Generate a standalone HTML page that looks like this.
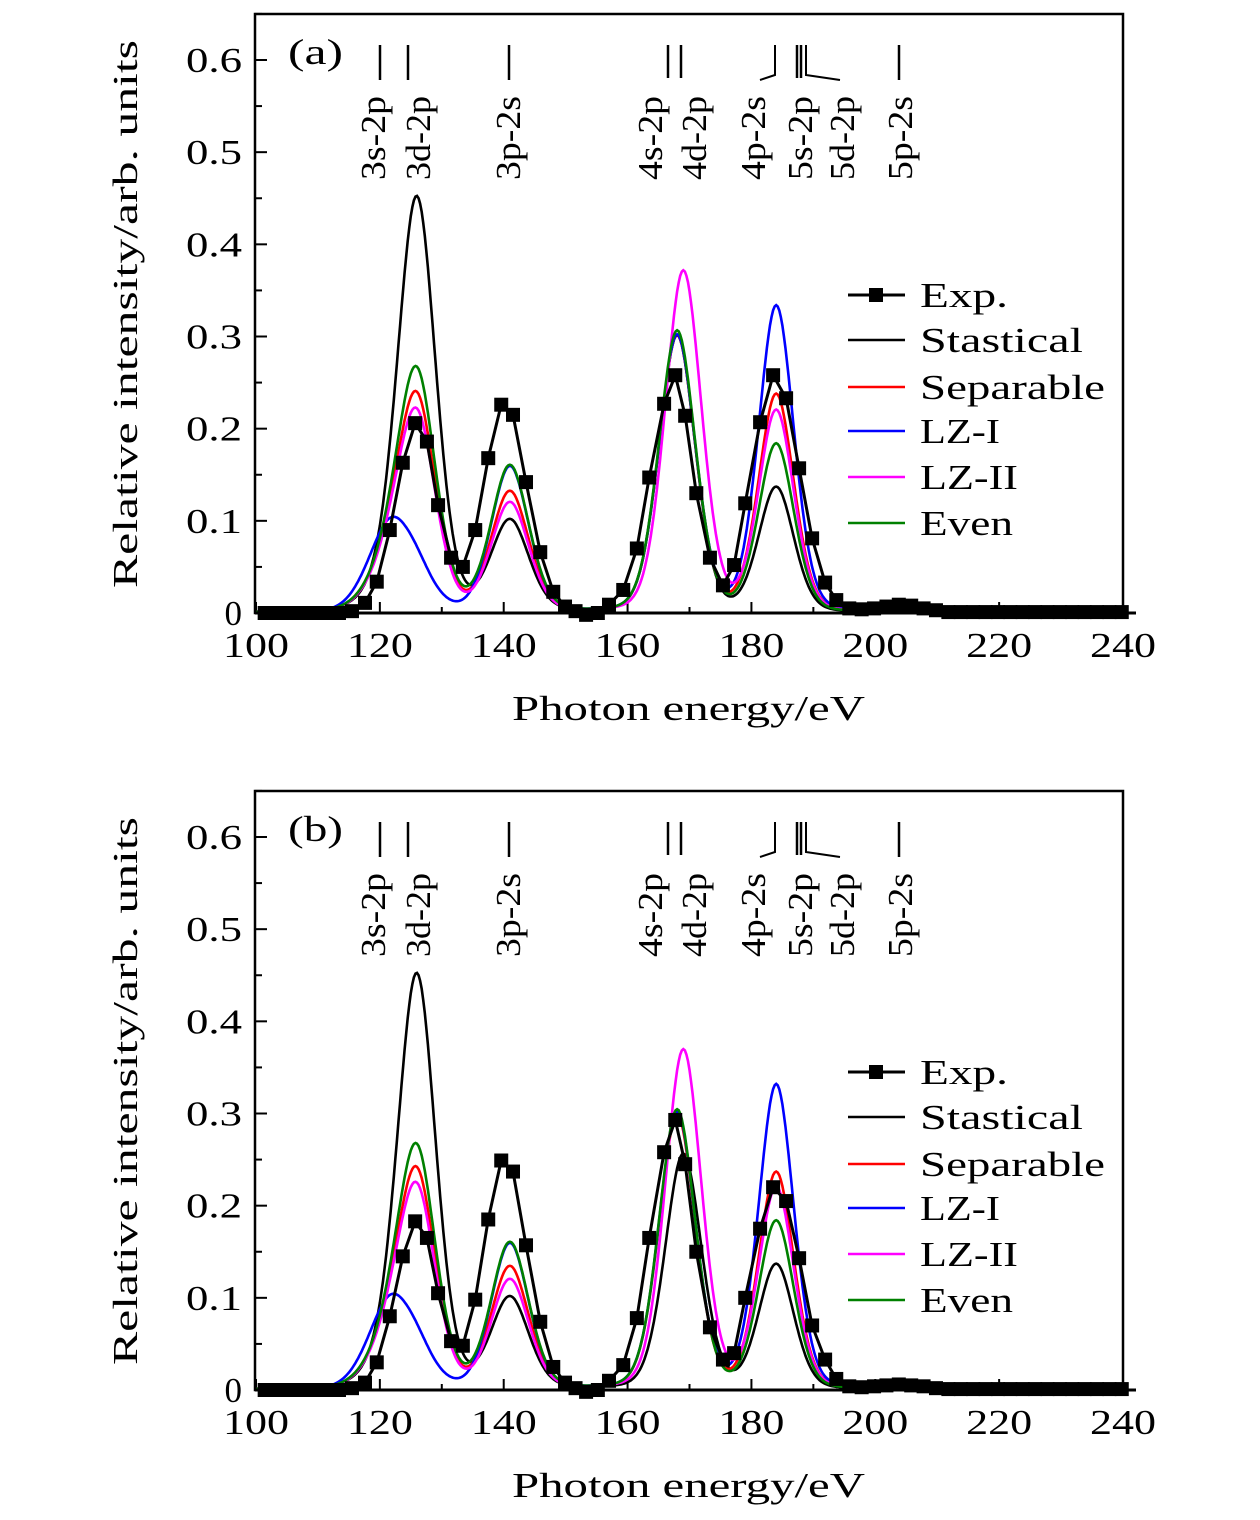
<!DOCTYPE html>
<html><head><meta charset="utf-8">
<style>
html,body{margin:0;padding:0;background:#fff;}
svg{display:block;font-family:"Liberation Serif","DejaVu Serif",serif;}
</style></head>
<body>
<svg id="chart" width="1260" height="1520" viewBox="0 0 1260 1520" xmlns="http://www.w3.org/2000/svg"></svg>
<script>
// ---- data ----
const xTicks = [100,120,140,160,180,200,220,240];
const yTicks = [0,0.1,0.2,0.3,0.4,0.5,0.6];
const yTickLabels = ["0","0.1","0.2","0.3","0.4","0.5","0.6"];
const seriesNames = ["Stastical","Separable","LZ-I","LZ-II","Even"];
const seriesColors = ["#000000","#ff0000","#0000ff","#ff00ff","#008000"];
// peak components (eV): 3s-2p, 3d-2p, 3p-2s, 4s/4d-2p, 4d-2p(shifted), 5s-2p, 5p-2s
const peakCenters = [121.6,126,141,168,169,184,204];
const peakWidths = [3.6,3.1,3.1,3.0,3.0,2.9,3.5];
// amplitudes per series, panel (a)
const ampA_stat = [0.025,0.44,0.098,0.30,0,0.135,0.005];
const ampA_sep  = [0.045,0.218,0.13,0.30,0,0.236,0.005];
const ampA_lz1  = [0.092,0.028,0.158,0.30,0,0.332,0.005];
const ampA_lz2  = [0.045,0.2,0.118,0,0.37,0.218,0.005];
const ampA_even = [0.045,0.245,0.158,0.305,0,0.182,0.005];
// panel (b)
const ampB_stat = [0.025,0.44,0.098,0,0.255,0.135,0.005];
const ampB_sep  = [0.045,0.22,0.132,0.297,0,0.235,0.005];
const ampB_lz1  = [0.092,0.028,0.158,0.30,0,0.33,0.005];
const ampB_lz2  = [0.045,0.203,0.118,0,0.368,0.218,0.005];
const ampB_even = [0.045,0.245,0.158,0.303,0,0.182,0.005];
// experimental points
const expE = [101.4,103.4,105.4,107.4,109.4,111.4,113.4,115.5,117.6,119.5,121.6,123.7,125.7,127.6,129.4,131.5,133.4,135.4,137.5,139.6,141.5,143.6,145.9,148,149.9,151.6,153.3,155.2,157,159.3,161.5,163.5,165.9,167.7,169.3,171.1,173.3,175.4,177.2,179,181.4,183.5,185.6,187.7,189.8,191.9,193.7,195.8,197.8,199.8,201.8,203.8,205.8,207.8,209.8,211.8,213.8,215.8,217.8,219.8,221.8,223.8,225.8,227.8,229.8,231.8,233.8,235.8,237.8,239.8];
const expA = [0,0,0,0,0,0,0,0.002,0.011,0.034,0.090,0.163,0.206,0.186,0.117,0.060,0.050,0.090,0.168,0.226,0.215,0.142,0.066,0.023,0.007,0.002,-0.002,0.000,0.009,0.025,0.070,0.147,0.227,0.258,0.214,0.130,0.060,0.030,0.052,0.119,0.207,0.258,0.233,0.157,0.081,0.033,0.014,0.005,0.004,0.005,0.007,0.009,0.008,0.005,0.003,0.001,0.001,0.001,0.001,0.001,0.001,0.001,0.001,0.001,0.001,0.001,0.001,0.001,0.001,0.001];
const expB = [0,0,0,0,0,0,0,0.002,0.008,0.030,0.080,0.145,0.183,0.165,0.105,0.053,0.048,0.098,0.185,0.249,0.237,0.157,0.074,0.025,0.008,0.002,-0.002,0.000,0.010,0.027,0.078,0.165,0.258,0.293,0.245,0.150,0.068,0.033,0.040,0.100,0.175,0.220,0.205,0.143,0.070,0.033,0.012,0.004,0.003,0.004,0.005,0.006,0.005,0.004,0.002,0.001,0.001,0.001,0.001,0.001,0.001,0.001,0.001,0.001,0.001,0.001,0.001,0.001,0.001,0.001];
const lineLabels = ["3s-2p","3d-2p","3p-2s","4s-2p","4d-2p","4p-2s","5s-2p","5d-2p","5p-2s"];

const NS="http://www.w3.org/2000/svg";
const svg=document.getElementById('chart');
function mk(tag,attrs,parent){const e=document.createElementNS(NS,tag);for(const k in attrs)e.setAttribute(k,attrs[k]);(parent||svg).appendChild(e);return e;}

const X0=256, X1=1123, E0=100, E1=240;
function xs(e){return X0+(e-E0)*(X1-X0)/(E1-E0);}
function profile(amps,e){let s=0;for(let i=0;i<amps.length;i++){const u=(e-peakCenters[i])/peakWidths[i];s+=amps[i]*(0.82*Math.exp(-0.5*u*u)+0.18/(1+u*u));}return s;}

function panel(off,tag,amps,exp){
  const yBase=613+off, yTop=14+off;
  const pxPer=(613-60)/0.6;
  const ys=v=>yBase-v*pxPer;
  const g=mk('g',{});
  
  
  for(let i=0;i<yTicks.length;i++){
    const y=ys(yTicks[i]);
    const t=mk('line',{x1:X0-1,x2:X0+11,y1:y,y2:y,stroke:'#000','stroke-width':2},g);
    
    
    const m=mk('line',{x1:X0-1,x2:X0+6,y1:ys(yTicks[i]+0.05),y2:ys(yTicks[i]+0.05),stroke:'#000','stroke-width':2},g);
    
    
    const lb=mk('text',{x:X0-14,y:y+12,'text-anchor':'end','font-size':35},g);
    if(yTickLabels[i].length>1){lb.setAttribute('textLength',56);lb.setAttribute('lengthAdjust','spacingAndGlyphs');}
    lb.textContent=yTickLabels[i];
    
    
  }
  for(let i=0;i<xTicks.length;i++){
    const x=xs(xTicks[i]);
    const t=mk('line',{x1:x,x2:x,y1:yBase,y2:yBase-11,stroke:'#000','stroke-width':2},g);
    
    
    if(i<xTicks.length-1){
      const xm=xs(xTicks[i]+10);
      const m=mk('line',{x1:xm,x2:xm,y1:yBase,y2:yBase-6,stroke:'#000','stroke-width':2},g);
      
      
    }
    const lb=mk('text',{x:x-33,y:yBase+44,'font-size':35,textLength:66,lengthAdjust:'spacingAndGlyphs'},g);
    lb.textContent=String(xTicks[i]);
    
    
  }
  [0,1,2,3,4].forEach(si=>{
    let d='';
    for(let e=E0;e<=E1+1e-9;e+=0.25){d+=(d?'L':'M')+xs(e).toFixed(1)+','+ys(profile(amps[si],e)).toFixed(1);}
    const p=mk('path',{d:d,fill:'none',stroke:seriesColors[si],'stroke-width':2.6},g);
    
    
  });
  let d='';
  for(let i=0;i<expE.length;i++){d+=(d?'L':'M')+xs(expE[i]).toFixed(1)+','+ys(exp[i]).toFixed(1);}
  const ep=mk('path',{d:d,fill:'none',stroke:'#000','stroke-width':3},g);
  
  
  for(let i=0;i<expE.length;i++){
    const r=mk('rect',{x:xs(expE[i])-7,y:ys(exp[i])-7,width:14,height:14,fill:'#000'},g);
    
    
  }
  const fr=mk('rect',{x:X0-1,y:yTop,width:X1-X0+1,height:yBase-yTop,fill:'none',stroke:'#000','stroke-width':2.5},g);
  
  
  const xl=mk('line',{x1:X0-1,x2:1136,y1:yBase,y2:yBase,stroke:'#000','stroke-width':3},g);
  
  
  const pt=mk('text',{x:288,y:yTop+50,'font-size':36,textLength:55,lengthAdjust:'spacingAndGlyphs'},g);
  pt.textContent='('+tag+')';
  
  
  const L=[[380,45,80],[408,45,80],[509,45,80],[668,45,78],[681,45,78],[797,45,78],[801,45,78],[899,45,80]];
  L.forEach(a=>{mk('line',{x1:a[0],x2:a[0],y1:a[1]+off,y2:a[2]+off,stroke:'#000','stroke-width':2.5},g);});
  mk('polyline',{points:`775,${45+off} 775,${75+off} 760,${80+off}`,fill:'none',stroke:'#000','stroke-width':2},g);
  mk('polyline',{points:`806,${45+off} 806,${75+off} 840,${80+off}`,fill:'none',stroke:'#000','stroke-width':2},g);
  const lx=[385,430,520,662,706,765,812,854,912];
  lineLabels.forEach((s,i)=>{
    const t=mk('text',{x:0,y:0,'font-size':35,'text-anchor':'end',textLength:84,lengthAdjust:'spacingAndGlyphs',transform:`translate(${lx[i]},${96+off}) rotate(-90)`},g);
    t.textContent=s;
    
    
  });
  const yt=mk('text',{x:0,y:0,'font-size':35,'text-anchor':'middle',textLength:548,lengthAdjust:'spacingAndGlyphs',transform:`translate(137,${314+off}) rotate(-90)`},g);
  yt.textContent='Relative intensity/arb. units';
  
  
  const xt=mk('text',{x:512,y:720+off,'font-size':35,textLength:353,lengthAdjust:'spacingAndGlyphs'},g);
  xt.textContent='Photon energy/eV';
  
  
  const names=['Exp.'].concat(seriesNames);
  const cols=['#000'].concat(seriesColors);
  const ly=[295,340,387,431,477,523];
  const lw=[88,163,185,80,98,93];
  names.forEach((n,i)=>{
    const y=ly[i]+off;
    const lg=mk('g',{},g);
    
    
    mk('line',{x1:848,x2:905,y1:y,y2:y,stroke:cols[i],'stroke-width':i==0?3:2.6},lg);
    if(i==0) mk('rect',{x:869,y:y-7,width:14,height:14,fill:'#000'},lg);
    const t=mk('text',{x:920,y:y+12,'font-size':35,textLength:lw[i],lengthAdjust:'spacingAndGlyphs'},lg);
    t.textContent=n;
  });
}
panel(0,'a',[ampA_stat,ampA_sep,ampA_lz1,ampA_lz2,ampA_even],expA);
panel(777,'b',[ampB_stat,ampB_sep,ampB_lz1,ampB_lz2,ampB_even],expB);
</script>
</body></html>
